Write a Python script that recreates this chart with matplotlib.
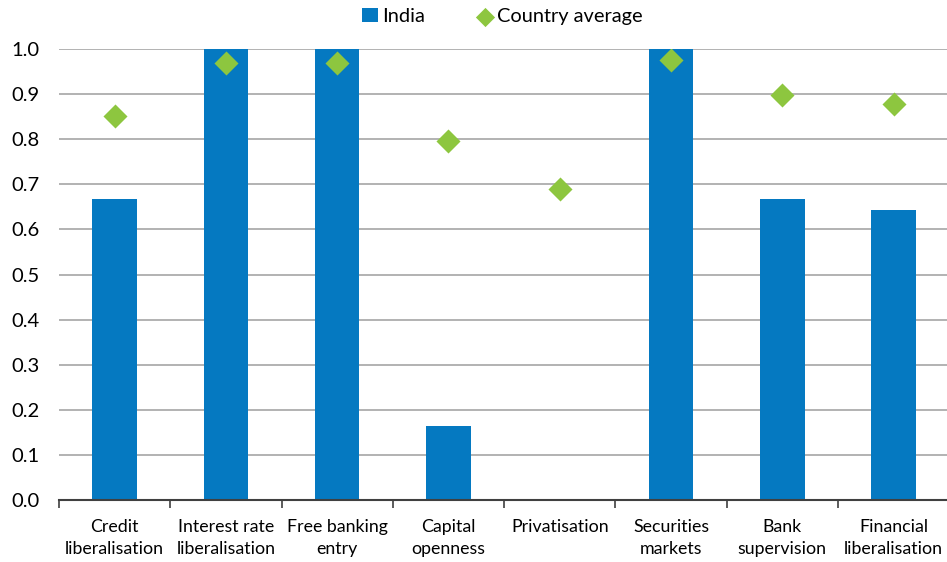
import numpy as np
import matplotlib.pyplot as plt

categories = ["Credit\nliberalisation", "Interest rate\nliberalisation", "Free banking\nentry",
              "Capital\nopenness", "Privatisation", "Securities\nmarkets", "Bank\nsupervision",
              "Financial\nliberalisation"]
india = [0.667, 1.0, 1.0, 0.164, 0.0, 1.0, 0.667, 0.642]
country_avg = [0.852, 0.969, 0.969, 0.797, 0.690, 0.976, 0.899, 0.879]

plt.rcParams['font.family'] = ['Lato', 'DejaVu Sans']

fig = plt.figure(figsize=(9.47, 5.62), dpi=100)
ax = fig.add_axes([0.0623, 0.1103, 0.940, 0.8025])

x = np.arange(len(categories))
bars = ax.bar(x, india, width=0.4, color="#0579c1", label="India", zorder=2)
pts = ax.scatter(x, country_avg, marker="D", s=150, color="#8dc63f", label="Country average",
                 zorder=3, linewidths=0)

ax.set_xlim(-0.5, len(categories) - 0.5)
ax.set_ylim(0, 1.0)
ax.set_yticks(np.arange(0, 1.01, 0.1))
ax.set_yticklabels([f"{v:.1f}" for v in np.arange(0, 1.01, 0.1)], fontsize=14.5)
ax.yaxis.grid(True, color="#a6a6a6", linewidth=1.2, zorder=0)
ax.set_axisbelow(True)
ax.tick_params(axis="y", length=0, pad=14)

ax.set_xticks(np.arange(-0.5, len(categories), 1.0))
ax.set_xticklabels([])
ax.set_xticks(x, minor=True)
ax.set_xticklabels(categories, minor=True, fontsize=12.8, linespacing=1.45)
ax.tick_params(axis="x", which="major", length=6, width=1.2, color="#404040", direction="out")
ax.tick_params(axis="x", which="minor", length=0, pad=14)

for s in ["top", "right", "left"]:
    ax.spines[s].set_visible(False)
ax.spines["bottom"].set_color("#404040")
ax.spines["bottom"].set_linewidth(1.5)

fig.legend([bars, pts], ["India", "Country average"], loc="upper center",
           bbox_to_anchor=(0.53, 1.018), ncol=2, frameon=False, fontsize=14.4,
           handletextpad=0.2, columnspacing=2.6, handlelength=0.8, markerscale=0.8)

fig.savefig("out.png", dpi=100)
